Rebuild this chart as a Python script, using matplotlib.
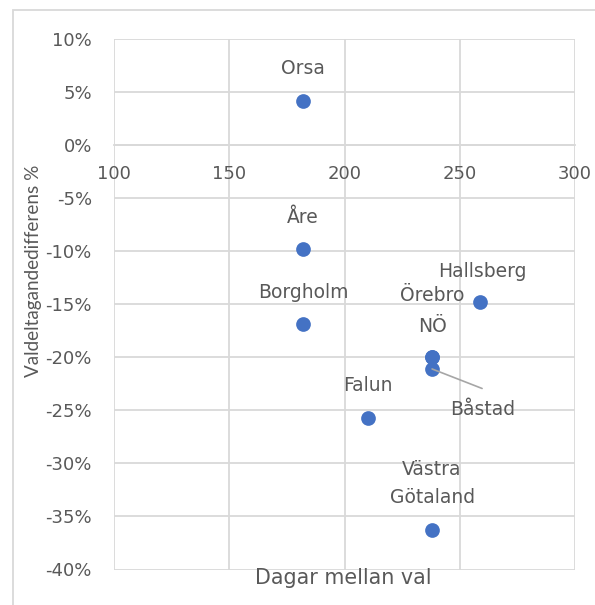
import matplotlib
matplotlib.use("Agg")
import matplotlib.pyplot as plt
from matplotlib.ticker import FuncFormatter
from matplotlib.patches import Rectangle

plt.rcParams['font.family'] = ['DejaVu Sans']

names = ["Orsa", "Åre", "Borgholm", "Hallsberg", "Örebro", "NÖ", "Båstad", "Falun", "Västra\nGötaland"]
days = [182, 182, 182, 259, 238, 238, 238, 210, 238]
diff = [4.2, -9.8, -16.9, -14.8, -20.0, -20.0, -21.1, -25.7, -36.3]
x_ticks = [100, 150, 200, 250, 300]
y_ticks = [10, 5, 0, -5, -10, -15, -20, -25, -30, -35, -40]

TXT = "#595959"
GRID = "#d9d9d9"
BLUE = "#4472C4"

fig = plt.figure(figsize=(5.95, 6.05), dpi=100)
W, H = 595, 605
ax = fig.add_axes([114 / W, 1 - 569.5 / H, (575 - 114) / W, (569.5 - 39) / H])

# chart-area border
fig.patches.append(Rectangle((13 / W, -0.1), 1.2, 1 - 10 / H + 0.1, transform=fig.transFigure,
                             fill=False, edgecolor=GRID, linewidth=1.3))

ax.set_xlim(100, 300)
ax.set_ylim(-40, 10)
ax.set_xticks(x_ticks)
ax.set_yticks(y_ticks)
ax.yaxis.set_major_formatter(FuncFormatter(lambda v, p: f"{int(v)}%"))
ax.grid(True, color=GRID, linewidth=1.3)
ax.set_axisbelow(True)
for s in ["top", "right", "left"]:
    ax.spines[s].set_visible(False)
ax.spines["bottom"].set_position(("data", 0))
ax.spines["bottom"].set_color(GRID)
ax.spines["bottom"].set_linewidth(1.3)
ax.tick_params(axis="both", length=0, labelsize=13, labelcolor=TXT)
ax.tick_params(axis="y", pad=16)
ax.tick_params(axis="x", pad=14)
ax.patch.set_alpha(0)

ax.scatter(days, diff, s=112, color=BLUE, zorder=3, linewidths=0)

# label offsets in pixels (dx, dy)
offsets = {
    "Orsa": (0, 32), "Åre": (0, 32), "Borgholm": (0, 32), "Hallsberg": (2, 31),
    "Örebro": (0, 62), "NÖ": (0, 31), "Båstad": (51, -41), "Falun": (0, 32),
    "Västra\nGötaland": (0, 47),
}
for n, x, y in zip(names, days, diff):
    dx, dy = offsets[n]
    ax.annotate(n, (x, y), xytext=(dx * 0.72, dy * 0.72), textcoords="offset points",
                ha="center", va="center", fontsize=13.5, color=TXT, linespacing=1.6,
                zorder=4)

# leader line for Båstad
i = names.index("Båstad")
ax.annotate("", (days[i], diff[i]), xytext=(50 * 0.72, -19.5 * 0.72), textcoords="offset points",
            arrowprops=dict(arrowstyle="-", color="#a6a6a6", lw=1.2, shrinkA=0, shrinkB=0))

fig.text(343 / W, 1 - 578 / H, "Dagar mellan val", ha="center", va="center",
         fontsize=14.9, color=TXT)
fig.text(34 / W, 1 - 271 / H, "Valdeltagandedifferens %", ha="center", va="center",
         rotation=90, fontsize=13.6, color=TXT, family=["Lato", "DejaVu Sans"])

fig.savefig("out.png", dpi=100)
